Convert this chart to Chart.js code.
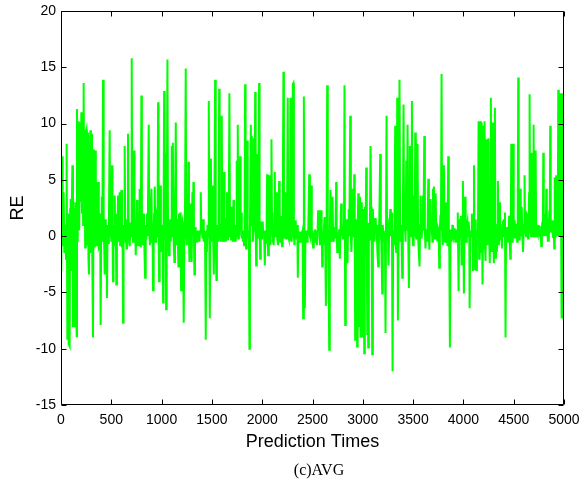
<!DOCTYPE html>
<html>
<head>
<meta charset="utf-8">
<script src="https://cdn.jsdelivr.net/npm/chart.js@4/dist/chart.umd.min.js"></script>
<style>
  html, body { margin: 0; padding: 0; background: #fff; }
  canvas { display: block; }
</style>
</head>
<body>
<canvas id="my_canvas" width="580" height="482"></canvas>
<script>
// [prediction time, RE], one array per stretch of the axis
const part0to800 = [
  [0,0.3],[3,-3.1],[10,7.1],[16,0.2],[22,-0.8],[26,3.9],[33,-1.5],[41,1.0],[50,-2.0],[56,8.2],
  [63,-9.2],[70,2.0],[76,-9.6],[86,-9.8],[91,2.4],[96,3.3],[101,-3.0],[106,1.5],[113,6.3],[119,-8.1],
  [124,2.5],[130,-7.0],[136,-8.1],[141,3.0],[148,-6.0],[156,-8.9],[159,11.3],[166,-0.5],[171,9.8],[176,10.2],
  [181,0.5],[189,10.1],[195,3.0],[202,11.0],[208,2.0],[214,8.0],[220,1.0],[225,13.6],[230,4.0],[235,8.3],
  [240,-1.0],[246,9.3],[252,9.5],[257,-0.8],[262,8.5],[268,9.2],[273,-2.0],[278,-3.4],[285,7.0],[292,9.4],
  [297,-1.5],[302,9.1],[308,2.0],[312,-3.0],[318,-9.0],[323,3.0],[328,7.7],[334,-1.0],[341,7.6],[346,1.0],
  [351,-0.8],[356,3.0],[361,4.8],[366,0.0],[371,4.8],[376,-1.0],[384,-0.8],[389,2.0],[394,-7.9],[400,0.5],
  [405,3.5],[411,-0.5],[418,13.9],[424,0.5],[430,-1.0],[434,-3.4],[440,1.5],[445,-0.5],[451,0.8],[457,-5.5],
  [463,1.0],[468,-0.6],[476,1.2],[484,9.4],[489,0.0],[494,2.9],[500,-0.5],[507,6.3],[512,0.5],[517,-4.0],
  [522,1.0],[528,-0.5],[534,3.6],[540,-0.8],[545,1.0],[550,-4.3],[556,2.0],[561,-0.5],[567,3.6],[572,0.3],
  [577,-0.4],[583,3.9],[588,-0.8],[594,1.5],[600,4.1],[606,-1.0],[612,0.5],[617,-7.7],[622,1.0],[628,-0.5],
  [633,8.0],[639,0.6],[645,1.0],[650,-1.1],[656,1.5],[661,0.0],[666,9.1],[672,0.5],[677,-0.6],[683,-0.9],
  [690,1.2],[696,0.0],[703,15.8],[709,0.5],[716,-0.5],[721,1.0],[726,7.6],[731,0.0],[737,1.0],[743,-1.7],
  [749,0.5],[756,3.2],[761,-0.3],[766,-0.8],[772,0.8],[777,2.0],[782,4.2],[787,0.0],[793,-1.0],[799,12.5],
  [804,1.0],[809,-0.8],[815,-0.8],[820,2.0],[825,0.5]
];
const part800to1700 = [
  [836,-3.7],[842,1.0],[848,-0.3],[855,2.0],[862,0.0],[872,9.9],[878,0.5],[884,-0.8],[890,1.5],[899,4.2],
  [905,-0.5],[910,1.0],[915,-4.8],[921,0.5],[926,2.0],[932,4.4],[938,-0.5],[944,1.8],[950,2.1],[956,0.0],
  [960,1.5],[965,11.9],[970,1.0],[975,-4.0],[981,0.5],[987,4.5],[993,0.0],[999,-1.4],[1005,1.0],[1010,-0.5],
  [1015,-5.9],[1020,2.0],[1025,12.9],[1030,0.0],[1035,7.4],[1040,0.5],[1045,-6.5],[1051,1.0],[1058,15.7],[1064,0.5],
  [1069,-1.0],[1074,-1.7],[1080,1.0],[1086,1.5],[1091,-0.5],[1096,1.0],[1101,8.0],[1106,0.0],[1112,8.3],[1117,0.5],
  [1122,-1.0],[1127,-2.3],[1133,1.0],[1141,10.1],[1146,0.5],[1151,-0.8],[1156,1.5],[1162,0.0],[1167,-2.7],[1172,2.0],
  [1178,-0.5],[1184,2.1],[1189,0.3],[1194,-4.8],[1199,1.0],[1206,1.3],[1212,-0.5],[1220,-7.7],[1226,0.5],[1232,1.0],
  [1240,14.9],[1245,0.0],[1250,-0.8],[1256,1.0],[1261,0.3],[1267,6.6],[1272,-0.5],[1277,-2.3],[1283,0.5],[1289,2.9],
  [1294,-0.6],[1299,-2.3],[1306,3.9],[1311,0.0],[1316,4.8],[1321,0.5],[1326,-3.4],[1332,0.3],[1338,0.8],[1344,-0.5],
  [1350,0.5],[1356,-0.5],[1362,0.0],[1370,0.5],[1376,-0.5],[1382,0.3],[1389,3.9],[1395,0.5],[1400,0.9],[1406,-0.2],
  [1412,1.5],[1419,-0.5],[1425,0.2],[1432,-0.3],[1439,-9.2],[1444,0.5],[1450,-1.4],[1456,1.0],[1462,0.0],[1469,12.0],
  [1474,0.5],[1479,-7.3],[1485,1.0],[1490,6.9],[1495,0.0],[1500,-0.5],[1506,4.5],[1511,0.5],[1519,-3.4],[1524,0.5],
  [1532,13.9],[1538,0.0],[1545,-3.9],[1550,1.0],[1556,0.0],[1561,0.4],[1566,-0.5],[1572,13.1],[1577,0.0],[1583,0.4],
  [1588,-0.5],[1593,1.0],[1598,10.7],[1603,0.0],[1609,-0.5],[1614,1.0],[1621,5.7],[1626,-0.5],[1632,0.5],[1638,-0.5],
  [1644,1.5],[1650,3.9],[1655,-0.3],[1660,0.5],[1667,0.1],[1674,12.7]
];
const part1700to2500 = [
  [1680,0.0],[1686,1.0],[1691,-0.3],[1697,2.6],[1702,0.5],[1708,-0.5],[1714,3.2],[1719,0.0],[1725,-0.5],[1731,1.0],
  [1736,-0.5],[1742,0.5],[1747,6.7],[1752,0.0],[1757,9.9],[1763,-0.2],[1768,0.5],[1774,0.0],[1780,7.1],[1786,0.5],
  [1791,2.1],[1797,-0.2],[1803,0.5],[1809,-0.5],[1815,0.3],[1820,-0.8],[1825,0.5],[1830,13.5],[1835,0.0],[1840,-1.1],
  [1845,0.5],[1850,8.5],[1856,0.5],[1862,0.4],[1868,-0.5],[1873,-10.0],[1878,0.5],[1887,9.9],[1892,1.0],[1897,8.9],
  [1902,2.1],[1907,-0.5],[1913,0.5],[1918,8.7],[1925,2.0],[1930,12.8],[1935,0.5],[1940,-2.6],[1946,1.0],[1950,7.3],
  [1956,0.5],[1960,-0.2],[1969,13.6],[1974,0.8],[1980,-2.0],[1986,0.5],[1992,1.3],[1998,-0.3],[2005,1.3],[2011,0.0],
  [2018,0.5],[2026,-2.6],[2032,0.5],[2038,-0.6],[2044,1.0],[2049,5.5],[2055,0.0],[2059,-1.7],[2066,0.5],[2070,5.4],
  [2076,0.0],[2082,-0.8],[2088,1.0],[2092,8.6],[2098,0.5],[2102,2.1],[2108,-0.5],[2114,-0.8],[2120,1.0],[2125,5.7],
  [2131,0.0],[2136,1.5],[2141,0.5],[2146,3.9],[2151,-0.3],[2157,-0.8],[2162,1.0],[2168,4.9],[2174,0.0],[2180,-0.5],
  [2186,1.8],[2191,0.5],[2197,-0.9],[2203,0.5],[2211,14.6],[2216,0.5],[2221,-0.2],[2228,0.5],[2235,3.9],[2240,-0.2],
  [2246,0.5],[2254,12.3],[2259,0.0],[2264,-0.2],[2270,0.5],[2276,-0.4],[2281,12.3],[2286,0.0],[2292,-0.5],[2298,0.5],
  [2304,13.5],[2310,13.6],[2315,0.0],[2321,-0.8],[2327,1.0],[2333,1.4],[2339,-0.2],[2344,0.5],[2349,1.0],[2354,-3.7],
  [2360,0.4],[2366,-0.5],[2371,0.4],[2377,-0.2],[2382,0.4],[2388,-0.5],[2394,0.2],[2401,0.5],[2407,-7.3],[2414,12.4],
  [2419,0.5],[2424,-6.4],[2430,0.4],[2436,-0.5],[2441,0.5],[2447,-0.5],[2452,0.0],[2458,0.5],[2467,5.5]
];
const part2500to3350 = [
  [2474,0.0],[2480,-0.2],[2487,4.5],[2493,-0.2],[2499,0.5],[2506,-1.0],[2512,0.3],[2518,-0.5],[2524,0.6],[2530,-0.2],
  [2537,0.5],[2543,-0.8],[2550,0.0],[2556,2.3],[2562,0.5],[2568,2.3],[2574,-0.8],[2580,0.5],[2586,-0.3],[2590,2.3],
  [2596,-2.7],[2602,0.5],[2608,-0.5],[2614,0.8],[2620,1.7],[2626,-0.3],[2633,-6.2],[2640,0.5],[2646,13.4],[2652,0.0],
  [2658,-0.2],[2666,-10.1],[2672,0.5],[2679,4.1],[2685,0.0],[2690,-0.5],[2699,3.5],[2705,0.0],[2711,-0.5],[2717,0.8],
  [2723,-0.2],[2729,0.5],[2735,4.8],[2740,0.0],[2746,-1.4],[2752,0.4],[2758,-0.5],[2765,0.6],[2772,-2.0],[2778,0.5],
  [2785,2.9],[2791,0.0],[2796,0.8],[2802,-0.3],[2808,0.5],[2813,0.2],[2818,13.4],[2825,-7.9],[2831,0.5],[2837,1.5],
  [2842,0.0],[2848,-2.4],[2854,1.0],[2860,2.4],[2866,0.0],[2875,10.7],[2881,0.0],[2887,-1.4],[2893,1.0],[2899,4.2],
  [2905,0.0],[2910,0.4],[2915,5.5],[2920,0.0],[2924,-9.2],[2929,1.0],[2934,1.5],[2939,0.0],[2944,-9.8],[2949,0.8],
  [2955,3.8],[2960,0.5],[2966,-8.0],[2972,3.5],[2978,-9.0],[2984,3.0],[2990,0.5],[2996,-9.0],[3002,2.4],[3008,0.5],
  [3014,-10.4],[3020,2.6],[3027,0.0],[3034,6.1],[3040,-0.5],[3044,-8.7],[3049,1.0],[3054,-9.9],[3060,1.2],[3066,-0.3],
  [3071,1.0],[3077,8.0],[3083,2.6],[3088,0.5],[3094,-10.5],[3100,2.4],[3106,0.5],[3111,0.8],[3117,-0.5],[3123,1.6],
  [3129,0.5],[3134,1.0],[3140,0.0],[3145,-1.4],[3153,-2.7],[3159,0.5],[3164,1.5],[3173,7.3],[3179,0.0],[3184,-0.5],
  [3193,-5.1],[3198,1.0],[3203,0.3],[3209,0.5],[3214,-0.5],[3220,0.0],[3226,-8.6],[3236,10.7],[3241,0.5],[3246,1.6],
  [3251,0.0],[3256,-2.6],[3262,0.5],[3267,1.0],[3273,2.4],[3279,0.0],[3285,2.1],[3290,0.5],[3296,-12.0],[3302,0.5],
  [3309,-0.8],[3315,1.0],[3322,9.8],[3327,-0.5],[3332,-1.4],[3338,0.5],[3342,12.3],[3349,-7.5],[3356,0.5]
];
const part3350to4170 = [
  [3365,13.9],[3371,0.5],[3377,-0.5],[3383,1.0],[3392,-3.7],[3398,0.5],[3405,11.7],[3411,0.5],[3418,1.3],[3425,-0.5],
  [3432,6.7],[3438,0.5],[3445,9.9],[3451,0.5],[3458,-4.6],[3464,0.5],[3468,8.0],[3473,0.5],[3478,5.4],[3483,0.0],
  [3488,12.0],[3494,0.5],[3500,-0.8],[3506,1.0],[3511,3.6],[3516,0.0],[3521,9.2],[3527,0.0],[3532,-0.2],[3538,1.0],
  [3544,8.2],[3550,0.0],[3555,-1.1],[3564,-2.7],[3570,1.0],[3574,3.6],[3580,0.5],[3585,-0.2],[3591,1.0],[3597,3.6],
  [3603,0.5],[3611,8.9],[3617,0.5],[3623,-1.1],[3629,0.5],[3636,0.4],[3642,-0.5],[3651,5.1],[3657,0.0],[3662,-1.2],
  [3668,1.0],[3673,3.3],[3680,0.5],[3685,0.8],[3692,-0.5],[3697,4.2],[3702,0.5],[3707,4.4],[3713,0.0],[3718,-0.2],
  [3724,3.8],[3730,0.5],[3736,0.1],[3742,-0.5],[3748,0.7],[3754,0.5],[3760,-2.8],[3766,0.5],[3772,1.9],[3777,0.5],
  [3783,14.4],[3789,0.0],[3795,-0.8],[3801,0.5],[3806,6.3],[3812,0.0],[3818,-0.5],[3823,0.5],[3830,3.0],[3836,0.0],
  [3842,-0.9],[3849,7.1],[3855,0.0],[3860,-1.4],[3866,-9.9],[3872,0.5],[3878,0.5],[3884,-0.5],[3890,1.0],[3896,0.4],
  [3902,0.0],[3908,0.5],[3914,0.7],[3920,-0.5],[3926,0.6],[3932,0.0],[3938,-0.5],[3944,2.1],[3952,-4.9],[3958,0.5],
  [3964,1.5],[3970,0.0],[3975,1.8],[3982,-2.6],[3988,0.5],[3995,4.9],[4000,0.0],[4005,-5.1],[4010,0.5],[4016,3.5],
  [4022,0.0],[4028,-0.5],[4034,1.0],[4040,1.3],[4046,0.0],[4052,1.3],[4058,0.5],[4062,-6.4],[4068,0.5],[4073,0.5],
  [4078,0.0],[4084,2.0],[4090,0.5],[4095,-3.1],[4100,0.5],[4105,6.3],[4111,-3.0],[4116,0.5],[4122,1.5],[4128,-3.0],
  [4134,0.5],[4140,0.0],[4145,0.5],[4151,10.2],[4156,-2.0],[4160,9.9],[4164,0.5]
];
const part4170to5000 = [
  [4168,10.2],[4174,-1.5],[4181,10.1],[4186,0.5],[4190,-4.3],[4196,2.0],[4200,9.8],[4205,-1.0],[4210,10.2],[4215,-1.0],
  [4220,-2.2],[4225,3.0],[4230,8.6],[4236,0.5],[4240,-0.8],[4245,4.0],[4250,8.7],[4256,0.0],[4262,-2.4],[4268,1.0],
  [4273,12.3],[4279,0.5],[4284,-1.4],[4288,2.0],[4293,10.1],[4298,0.0],[4303,-2.4],[4308,1.0],[4313,11.4],[4318,0.0],
  [4323,-2.0],[4328,0.5],[4333,-1.4],[4338,1.0],[4343,4.9],[4348,0.0],[4353,-0.8],[4358,1.0],[4363,3.0],[4368,0.0],
  [4373,-0.2],[4378,0.5],[4383,-1.1],[4388,1.0],[4393,1.4],[4398,0.0],[4403,1.5],[4408,0.5],[4413,2.1],[4419,-9.0],
  [4424,0.5],[4429,-0.2],[4434,0.8],[4439,0.2],[4444,-0.5],[4449,0.5],[4454,1.8],[4460,0.0],[4466,-2.0],[4471,0.5],
  [4476,8.2],[4481,0.0],[4486,-0.5],[4490,1.0],[4495,8.2],[4500,0.5],[4505,1.4],[4510,-0.2],[4515,0.5],[4520,1.1],
  [4525,-0.1],[4530,0.5],[4535,-0.5],[4540,1.0],[4545,14.1],[4550,0.5],[4555,-0.3],[4560,1.0],[4565,4.2],[4570,0.0],
  [4575,0.4],[4580,2.6],[4585,0.5],[4592,-1.4],[4598,0.0],[4603,1.0],[4608,5.4],[4613,0.5],[4618,0.4],[4623,0.0],
  [4628,2.0],[4633,1.9],[4638,0.5],[4643,-0.2],[4648,1.0],[4653,3.8],[4658,12.6],[4663,0.5],[4668,0.4],[4673,0.0],
  [4678,7.4],[4683,0.5],[4688,0.4],[4693,0.0],[4698,9.9],[4703,0.5],[4708,2.2],[4713,0.0],[4718,7.6],[4723,0.5],
  [4728,-0.1],[4733,0.5],[4738,0.3],[4743,1.0],[4748,0.0],[4754,0.9],[4760,-0.1],[4766,0.5],[4774,-0.9],[4780,0.5],
  [4785,1.3],[4790,0.0],[4794,7.4],[4799,0.5],[4804,0.1],[4809,0.5],[4814,2.0],[4819,0.0],[4824,4.2],[4829,0.5],
  [4834,1.6],[4839,-0.5],[4844,0.5],[4849,-0.5],[4854,2.3],[4858,0.5],[4863,9.8],[4868,0.5],[4873,0.4],[4878,1.0],
  [4883,1.4],[4888,0.0],[4893,-0.1],[4898,0.5],[4903,-1.1],[4908,5.2],[4913,0.0],[4918,0.5],[4923,5.4],[4928,0.5],
  [4933,0.7],[4938,0.0],[4943,13.0],[4948,0.5],[4953,0.4],[4958,0.0],[4963,12.7],[4968,0.5],[4972,-0.2],[4976,-7.3],
  [4983,12.7],[4988,0.5],[4993,-7.3],[4997,0.3],[5000,0.4]
];

const xTicks = [0, 500, 1000, 1500, 2000, 2500, 3000, 3500, 4000, 4500, 5000];
const yTicks = [-15, -10, -5, 0, 5, 10, 15, 20];
const xLabel = 'Prediction Times';
const yLabel = 'RE';
const caption = '(c)AVG';

const the_points = [].concat(part0to800, part800to1700, part1700to2500,
    part2500to3350, part3350to4170, part4170to5000)
  .map(p => ({x: p[0], y: p[1]}))
  .sort((a, b) => a.x - b.x);

// matlab-like box with inward ticks on every side, plus the caption under the axes
const boxPlugin = {
  id: 'box',
  afterDraw(chart) {
    const ctx = chart.ctx;
    const a = chart.chartArea;
    const sx = chart.scales.x;
    const sy = chart.scales.y;
    const L = Math.round(a.left) + 0.5, R = Math.round(a.right) - 0.5;
    const T = Math.round(a.top) + 0.5, B = Math.round(a.bottom) - 0.5;
    ctx.save();
    ctx.strokeStyle = '#000';
    ctx.lineWidth = 1;
    ctx.beginPath();
    ctx.rect(L, T, R - L, B - T);
    xTicks.forEach(t => {
      const px = Math.round(sx.getPixelForValue(t)) + 0.5;
      ctx.moveTo(px, B); ctx.lineTo(px, B - 5);
      ctx.moveTo(px, T); ctx.lineTo(px, T + 5);
    });
    yTicks.forEach(t => {
      const py = Math.round(sy.getPixelForValue(t)) + 0.5;
      ctx.moveTo(L, py); ctx.lineTo(L + 5, py);
      ctx.moveTo(R, py); ctx.lineTo(R - 5, py);
    });
    ctx.stroke();
    ctx.fillStyle = '#000';
    ctx.font = '16px "Liberation Serif", "Times New Roman", serif';
    ctx.textAlign = 'center';
    ctx.textBaseline = 'alphabetic';
    ctx.fillText(caption, 319, 474.5);
    ctx.restore();
  }
};

const tickFont = {family: '"Liberation Sans", Arial, sans-serif', size: 14};
const titleFont = {family: '"Liberation Sans", Arial, sans-serif', size: 18};

const the_chart = new Chart(document.getElementById('my_canvas').getContext('2d'), {
  type: 'line',
  data: {
    datasets: [{
      label: 'RE',
      data: the_points,
      borderColor: '#00ff00',
      borderWidth: 2,
      pointRadius: 0,
      tension: 0,
      fill: false
    }]
  },
  options: {
    responsive: false,
    animation: false,
    devicePixelRatio: 1,
    layout: {padding: {top: 11, right: 16, bottom: 0, left: 0}},
    plugins: {
      legend: {display: false},
      tooltip: {enabled: false}
    },
    scales: {
      x: {
        type: 'linear',
        min: 0,
        max: 5000,
        afterFit: s => { s.height = 77; s.paddingLeft = 0; s.paddingRight = 0; },
        afterBuildTicks: s => { s.ticks = xTicks.map(v => ({value: v})); },
        grid: {display: false, drawTicks: false},
        border: {display: false},
        ticks: {
          font: tickFont, color: '#000', padding: 7,
          maxRotation: 0, autoSkip: false,
          callback: v => String(v)
        },
        title: {
          display: true, text: xLabel, font: titleFont, color: '#000',
          padding: {top: 0, bottom: 29}
        }
      },
      y: {
        min: -15,
        max: 20,
        afterFit: s => { s.width = 61; s.paddingTop = 0; s.paddingBottom = 0; },
        afterBuildTicks: s => { s.ticks = yTicks.map(v => ({value: v})); },
        grid: {display: false, drawTicks: false},
        border: {display: false},
        ticks: {
          font: tickFont, color: '#000', padding: 5,
          autoSkip: false,
          callback: v => String(v)
        },
        title: {
          display: true, text: yLabel, font: titleFont, color: '#000',
          padding: {top: 7.5, bottom: 0}
        }
      }
    }
  },
  plugins: [boxPlugin]
});
</script>
</body>
</html>
